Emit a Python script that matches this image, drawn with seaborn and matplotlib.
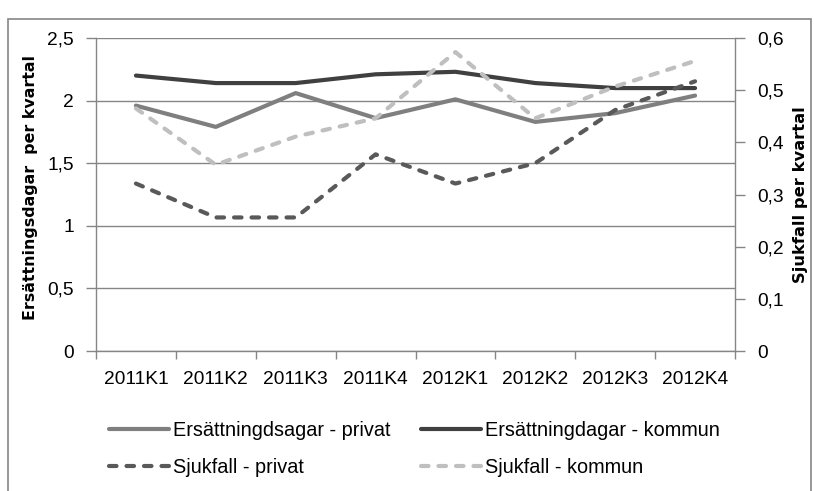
import matplotlib
matplotlib.use("Agg")
import matplotlib.pyplot as plt
import seaborn as sns
import pandas as pd
from matplotlib.ticker import FixedLocator, FuncFormatter, MultipleLocator
from matplotlib.patches import Rectangle

quarters = ["2011K1", "2011K2", "2011K3", "2011K4", "2012K1", "2012K2", "2012K3", "2012K4"]
ersatt_privat = [1.96, 1.79, 2.06, 1.86, 2.01, 1.83, 1.90, 2.04]
ersatt_kommun = [2.20, 2.14, 2.14, 2.21, 2.23, 2.14, 2.10, 2.10]
sjukfall_privat = [0.321, 0.256, 0.256, 0.377, 0.321, 0.360, 0.462, 0.517]
sjukfall_kommun = [0.465, 0.357, 0.411, 0.446, 0.573, 0.446, 0.507, 0.556]
left_label = "Ersättningsdagar  per kvartal"
right_label = "Sjukfall per kvartal"
names = ["Ersättningdsagar - privat", "Ersättningdagar - kommun",
         "Sjukfall - privat", "Sjukfall - kommun"]

sns.set_theme(style="white")
plt.rcParams['font.family'] = ['Liberation Sans', 'DejaVu Sans']
plt.rcParams['text.color'] = 'black'

fig = plt.figure(figsize=(8.14, 4.91), dpi=100)
ax = fig.add_axes([96/814, 1-351/491, 639/814, 313/491])
ax2 = ax.twinx()

df = pd.DataFrame({"q": quarters, "ep": ersatt_privat, "ek": ersatt_kommun,
                   "sp": sjukfall_privat, "sk": sjukfall_kommun})
x = list(range(len(quarters)))
df["x"] = x

lw = 3.0
sns.lineplot(data=df, x="x", y="ep", ax=ax, color="#7f7f7f", lw=lw, label=names[0], legend=False,
             solid_capstyle="round")
sns.lineplot(data=df, x="x", y="ek", ax=ax, color="#404040", lw=lw, label=names[1], legend=False,
             solid_capstyle="round")
sns.lineplot(data=df, x="x", y="sp", ax=ax2, color="#595959", lw=lw, label=names[2], legend=False,
             dashes=False)
sns.lineplot(data=df, x="x", y="sk", ax=ax2, color="#bfbfbf", lw=lw, label=names[3], legend=False,
             dashes=False)
for ln in ax2.get_lines():
    ln.set_dashes((1.8, 2.4))
    ln.set_dash_capstyle("round")

ax.set_zorder(1)
ax2.set_zorder(2)
ax.patch.set_visible(False)

ax.set_xlim(-0.5, 7.5)
ax.set_ylim(0, 2.5)
ax2.set_ylim(0, 0.6)

gc = "#868686"
ax.yaxis.set_major_locator(MultipleLocator(0.5))
ax2.yaxis.set_major_locator(MultipleLocator(0.1))
fmt = FuncFormatter(lambda v, p: ("%g" % round(v, 2)).replace(".", ","))
ax.yaxis.set_major_formatter(fmt)
ax2.yaxis.set_major_formatter(fmt)
ax.grid(True, axis="y", color=gc, lw=1)
ax.grid(False, axis="x")
ax2.grid(False)

fs = 13.8
ax.xaxis.set_major_locator(FixedLocator(x))
ax.set_xticklabels(quarters)
ax.xaxis.set_minor_locator(FixedLocator([i - 0.5 for i in range(len(quarters) + 1)]))
ax.tick_params(axis="x", which="major", length=0, pad=14.5, labelsize=fs, labelcolor="#000000")
ax.tick_params(axis="x", which="minor", length=6, width=1, color=gc, direction="out", bottom=True)
ax.tick_params(axis="y", which="major", length=7, width=1, color=gc, direction="out", left=True,
               pad=9, labelsize=fs, labelcolor="#000000")
ax2.tick_params(axis="y", which="major", length=7, width=1, color=gc, direction="out", right=True,
                pad=9, labelsize=fs, labelcolor="#000000")

for a in (ax, ax2):
    for s in ("left", "right", "bottom"):
        a.spines[s].set_color(gc)
        a.spines[s].set_linewidth(1)
    a.spines["top"].set_visible(False)
ax.spines["right"].set_visible(False)
ax2.spines["left"].set_visible(False)
ax2.spines["bottom"].set_visible(False)

ax.set_xlabel("")
ax.set_ylabel(left_label, fontsize=11.4, fontweight="bold", family="DejaVu Sans", color="black")
ax2.set_ylabel(right_label, fontsize=11.8, fontweight="bold", family="DejaVu Sans", color="black")
ax.yaxis.set_label_coords(-0.09, 0.522)
ax2.yaxis.set_label_coords(1.091, 0.50)

h1, l1 = ax.get_legend_handles_labels()
h2, l2 = ax2.get_legend_handles_labels()
leg_kw = dict(loc="center left", frameon=False, fontsize=14.3, handlelength=3.0,
              handletextpad=0.2, labelspacing=0.95, borderpad=0, borderaxespad=0)
leg1 = fig.legend([h1[0], h2[0]], [l1[0], l2[0]], bbox_to_anchor=(109/814, 1 - 449/491), **leg_kw)
leg2 = fig.legend([h1[1], h2[1]], [l1[1], l2[1]], bbox_to_anchor=(421/814, 1 - 449/491), **leg_kw)

fig.patches.append(Rectangle((8/814, -0.1), 803/814, 1.1 - 19/491, transform=fig.transFigure,
                             fill=False, edgecolor="#868686", lw=1.2))

fig.savefig("out.png", dpi=100)
